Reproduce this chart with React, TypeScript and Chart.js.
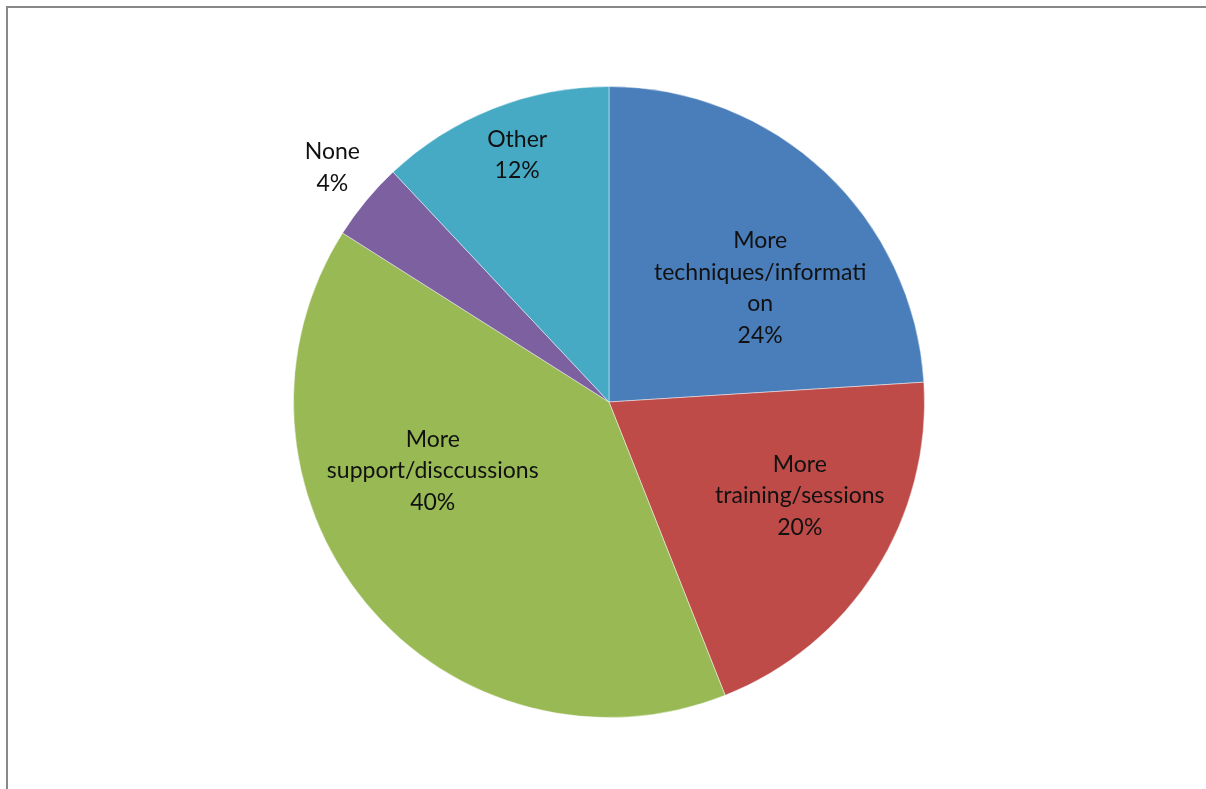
import React, { useEffect, useRef } from "react";
import { Chart, registerables } from "chart.js";

Chart.register(...registerables);

const categories = [
  "More techniques/information",
  "More training/sessions",
  "More support/disccussions",
  "None",
  "Other",
];
const values = [24, 20, 40, 4, 12];
const labelLines = [
  ["More", "techniques/informati", "on", "24%"],
  ["More", "training/sessions", "20%"],
  ["More", "support/disccussions", "40%"],
  ["None", "4%"],
  ["Other", "12%"],
];
const colors = ["#4A7EBB", "#BE4B48", "#98B954", "#7D60A0", "#46AAC5"];
// label placement: radius fraction and angle shift (degrees) from slice mid
const labelRadius = [0.6, 0.674, 0.6, 1.15, 0.835];
const labelShift = [9.8, -6.2, 18.2, 0.7, 1.2];

const FONT = "Lato, 'Open Sans', sans-serif";

const labelPlugin = {
  id: "sliceLabels",
  afterDatasetsDraw(chart: any) {
    const meta = chart.getDatasetMeta(0);
    const ctx = chart.ctx;
    ctx.save();
    ctx.font = `23px ${FONT}`;
    ctx.fillStyle = "#111111";
    ctx.textAlign = "center";
    ctx.textBaseline = "middle";
    const lh = 31.5;
    meta.data.forEach((arc: any, i: number) => {
      const { x, y, startAngle, endAngle, outerRadius } = arc.getProps(
        ["x", "y", "startAngle", "endAngle", "outerRadius"],
        true
      );
      const mid = (startAngle + endAngle) / 2 + (labelShift[i] * Math.PI) / 180;
      const r = outerRadius * labelRadius[i];
      const cx = x + Math.cos(mid) * r;
      const cy = y + Math.sin(mid) * r;
      const lines = labelLines[i];
      const top = cy - ((lines.length - 1) * lh) / 2;
      lines.forEach((t, j) => ctx.fillText(t, cx, top + j * lh));
    });
    ctx.restore();
  },
};

export default function App() {
  const ref = useRef<HTMLCanvasElement>(null);
  useEffect(() => {
    const chart = new Chart(ref.current!, {
      type: "pie",
      data: {
        labels: categories,
        datasets: [
          {
            data: values,
            backgroundColor: colors,
            borderColor: "rgba(255,255,255,0.45)",
            borderWidth: 1,
          },
        ],
      },
      options: {
        animation: false,
        responsive: false,
        maintainAspectRatio: false,
        layout: { padding: { top: 86, bottom: 71, left: 200, right: 188 } },
        plugins: {
          legend: { display: false },
          tooltip: { enabled: false },
          title: { display: false },
        },
      },
      plugins: [labelPlugin],
    });
    return () => chart.destroy();
  }, []);
  return (
    <div
      style={{
        position: "fixed",
        left: 0,
        top: 0,
        width: 1206,
        height: 789,
        background: "#fff",
        overflow: "hidden",
      }}
    >
      <div
        style={{
          position: "absolute",
          left: 6,
          top: 6,
          right: 0,
          bottom: 0,
          borderTop: "2px solid #888",
          borderLeft: "2px solid #888",
        }}
      />
      <canvas
        ref={ref}
        width={1206}
        height={789}
        style={{ position: "absolute", left: 0, top: 0, width: 1206, height: 789 }}
      />
    </div>
  );
}
